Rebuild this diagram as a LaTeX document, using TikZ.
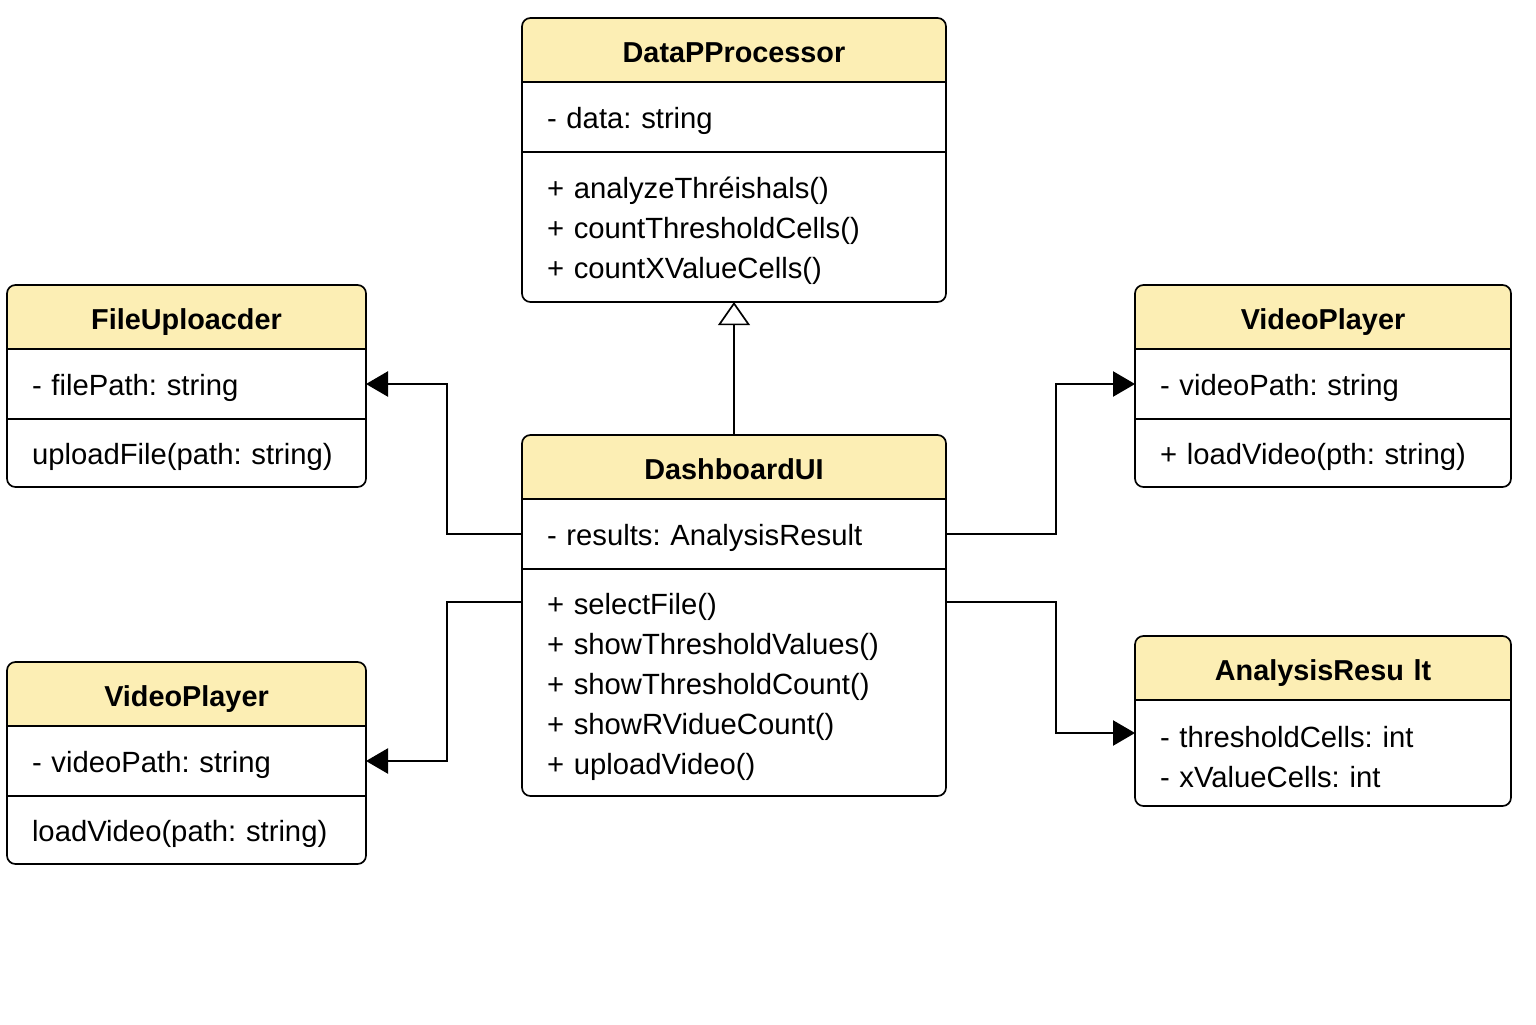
\documentclass[tikz,border=0pt]{standalone}
\usepackage{fontspec}
\setmainfont{Liberation Sans}
\usetikzlibrary{positioning,arrows.meta,backgrounds}
\definecolor{headyellow}{RGB}{252,238,180}
\frenchspacing

\begin{document}
\begin{tikzpicture}[
    every node/.style={inner ysep=0pt, outer sep=0pt},
    classhead/.style={minimum height=1.6cm, align=center, anchor=north west,
                      text height=18pt, text depth=0pt,
                      font=\fontsize{20.5}{24}\selectfont\bfseries},
    classpart/.style={inner xsep=0.625cm, align=left,
                      execute at begin node={\rule{0pt}{21pt}},
                      font=\fontsize{20.8}{28.45}\selectfont},
    widebox/.style={minimum width=10.6cm, text width=9.35cm},
    leftbox/.style={minimum width=8.975cm, text width=7.725cm},
    rightbox/.style={minimum width=9.4cm, text width=8.15cm},
    frame/.style={line width=1.2pt, rounded corners=6pt},
    sep/.style={line width=0.9pt},
    assoc/.style={-{Triangle[length=0.55cm,width=0.63cm]}, line width=1.2pt},
    inherit/.style={-{Triangle[open,length=0.58cm,width=0.8cm]}, line width=1.2pt},
    ]
\useasboundingbox (0,0) rectangle (38.4,-25.6);

% classes
\node[classhead, widebox] (dpH) at (13.05,-0.45) {DataPProcessor};
\node[classpart, widebox, below=0pt of dpH, minimum height=1.75cm] (dpA) {- data: string};
\node[classpart, widebox, below=0pt of dpA, minimum height=3.75cm] (dpM)
     {+ analyzeThréishals()\\+ countThresholdCells()\\+ countXValueCells()};

\node[classhead, leftbox] (fuH) at (0.175,-7.125) {FileUploacder};
\node[classpart, leftbox, below=0pt of fuH, minimum height=1.75cm] (fuA) {- filePath: string};
\node[classpart, leftbox, below=0pt of fuA, minimum height=1.7cm] (fuM) {uploadFile(path: string)};

\node[classhead, rightbox] (vrH) at (28.375,-7.125) {VideoPlayer};
\node[classpart, rightbox, below=0pt of vrH, minimum height=1.75cm] (vrA) {- videoPath: string};
\node[classpart, rightbox, below=0pt of vrA, minimum height=1.7cm] (vrM) {+ loadVideo(pth: string)};

\node[classhead, widebox] (dbH) at (13.05,-10.875) {DashboardUI};
\node[classpart, widebox, below=0pt of dbH, minimum height=1.75cm] (dbA) {- results: AnalysisResult};
\node[classpart, widebox, below=0pt of dbA, minimum height=5.675cm] (dbM)
     {+ selectFile()\\+ showThresholdValues()\\+ showThresholdCount()\\+ showRVidueCount()\\+ uploadVideo()};

\node[classhead, leftbox] (vlH) at (0.175,-16.55) {VideoPlayer};
\node[classpart, leftbox, below=0pt of vlH, minimum height=1.75cm] (vlA) {- videoPath: string};
\node[classpart, leftbox, below=0pt of vlA, minimum height=1.7cm] (vlM) {loadVideo(path: string)};

\node[classhead, rightbox] (arH) at (28.375,-15.9) {AnalysisResu lt};
\node[classpart, rightbox, below=0pt of arH, minimum height=2.65cm] (arM)
     {- thresholdCells: int\\- xValueCells: int};

% header fills and frames
\begin{scope}[on background layer]
\foreach \c in {dp,fu,vr,db,vl,ar}
  \fill[headyellow] (\c H.south west) [rounded corners=6pt] -- (\c H.north west)
        -- (\c H.north east) [sharp corners] -- (\c H.south east) -- cycle;
\end{scope}
\foreach \c in {dp,fu,vr,db,vl,ar} {
  \draw[frame] (\c H.north west) rectangle (\c M.south east);
  \draw[sep] (\c H.south west) -- (\c H.south east);
}
\foreach \c in {dp,fu,vr,db,vl}
  \draw[sep] (\c A.south west) -- (\c A.south east);

% relations
\draw[inherit] (dbH.north) -- (dpM.south);
\draw[assoc] (dbA.west) -- ++(-1.875,0) |- (fuA.east);
\draw[assoc] ([yshift=-0.825cm]dbM.north west) -- ++(-1.875,0) |- (vlA.east);
\draw[assoc] (dbA.east) -- ++(2.75,0) |- (vrA.west);
\draw[assoc] ([yshift=-0.825cm]dbM.north east) -- ++(2.75,0) |- ([yshift=0.5cm]arM.west);
\end{tikzpicture}
\end{document}
